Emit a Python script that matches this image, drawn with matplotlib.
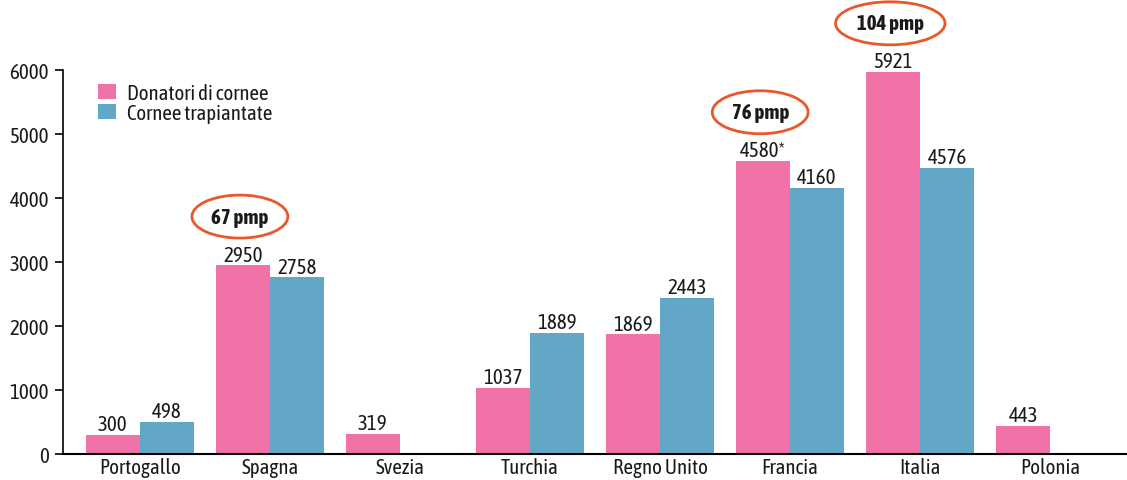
import matplotlib
matplotlib.use("Agg")
import matplotlib.pyplot as plt
import numpy as np

plt.rcParams['font.family'] = ['Asap Condensed', 'Liberation Sans', 'DejaVu Sans']

COLOUR_PINK = "#F072A8"
COLOUR_BLUE = "#62A8C6"
COLOUR_RING = "#E8582A"
COLOUR_TEXT = "#1A1A1A"

countries = ["Portogallo", "Spagna", "Svezia", "Turchia", "Regno Unito",
             "Francia", "Italia", "Polonia"]
donors = [300, 2950, 319, 1037, 1869, 4580, 5970, 443]
transplants = [498, 2758, 0, 1889, 2443, 4160, 4470, 0]
donorLabels = ["300", "2950", "319", "1037", "1869", "4580*", "5921", "443"]
transplantLabels = ["498", "2758", "", "1889", "2443", "4160", "4576", ""]
pmpIndex = [1, 5, 6]
pmpLabels = ["67 pmp", "76 pmp", "104 pmp"]
yTicks = [0, 1000, 2000, 3000, 4000, 5000, 6000]

FS = 15

fig = plt.figure(figsize=(11.27, 4.81), dpi=100)
ax = fig.add_axes([63 / 1127, 26 / 481, 1 - 63 / 1127, 384 / 481])

x = np.arange(len(countries))
w = 0.415
barsD = ax.bar(x - w / 2, donors, w, color=COLOUR_PINK, label="Donatori di cornee")
barsT = ax.bar(x + w / 2, transplants, w, color=COLOUR_BLUE, label="Cornee trapiantate")

for bar, lab in zip(barsD, donorLabels):
    ax.annotate(lab, (bar.get_x() + bar.get_width() / 2, bar.get_height()),
                xytext=(0, 0.5), textcoords="offset points", ha="center", va="bottom",
                fontsize=FS, color=COLOUR_TEXT, annotation_clip=False)
for bar, lab in zip(barsT, transplantLabels):
    if lab:
        ax.annotate(lab, (bar.get_x() + bar.get_width() / 2, bar.get_height()),
                    xytext=(0, 0.5), textcoords="offset points", ha="center", va="bottom",
                    fontsize=FS, color=COLOUR_TEXT, annotation_clip=False)

# pmp badges sit above the donor bar
for i, lab in zip(pmpIndex, pmpLabels):
    ax.annotate(lab, (i - 0.23, donors[i]), xytext=(0, 35), textcoords="offset points",
                ha="center", va="center", fontsize=FS, fontweight="bold",
                color=COLOUR_TEXT, annotation_clip=False,
                bbox=dict(boxstyle="ellipse,pad=0.25", fc="white",
                          ec=COLOUR_RING, lw=2))

ax.set_xlim(-0.59, 7.59)
ax.set_ylim(0, 6000)
ax.set_yticks(yTicks)
ax.set_xticks(x)
ax.set_xticklabels(countries)
ax.tick_params(axis="x", length=0, labelsize=FS, labelcolor=COLOUR_TEXT, pad=2)
ax.tick_params(axis="y", length=6, width=1.2, labelsize=FS, labelcolor=COLOUR_TEXT, pad=4)
for side in ["top", "right"]:
    ax.spines[side].set_visible(False)
ax.spines["left"].set_linewidth(1.2)
ax.spines["bottom"].set_linewidth(1.5)

ax.legend(loc="upper left", bbox_to_anchor=(0.015, 1.015), frameon=False,
          fontsize=FS, handlelength=0.9, handleheight=0.75, handletextpad=0.5,
          labelspacing=0.0, labelcolor=COLOUR_TEXT)

fig.savefig("out.png", dpi=100)
